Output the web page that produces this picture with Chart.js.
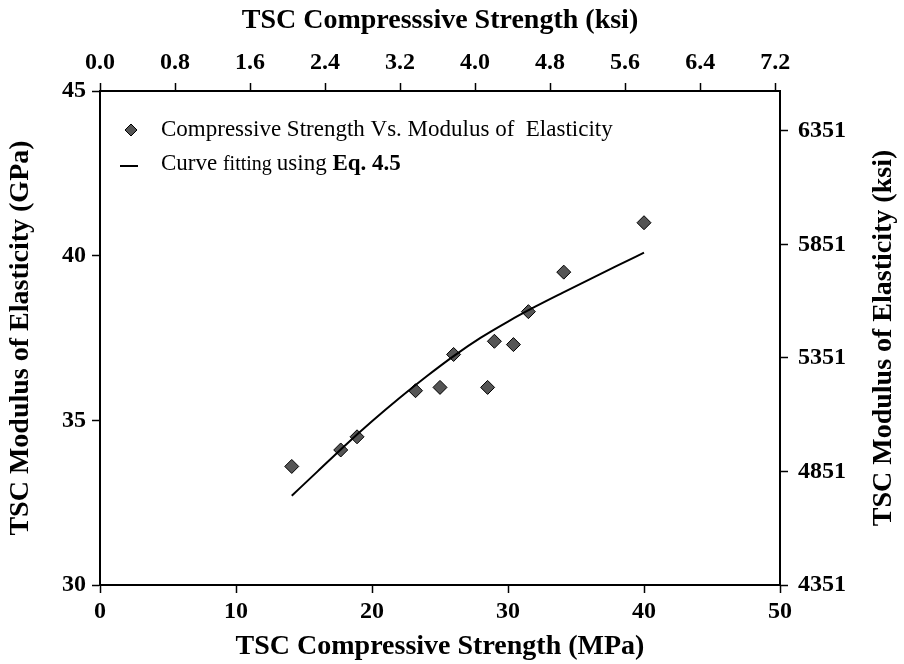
<!DOCTYPE html>
<html>
<head>
<meta charset="utf-8">
<script src="https://cdn.jsdelivr.net/npm/chart.js@4.4.1/dist/chart.umd.min.js"></script>
<style>
    html, body { margin: 0; padding: 0; background: #fff; }
    #wrap { width: 904px; height: 664px; }
</style>
</head>
<body>
<div id="wrap"><canvas id="main-chart" width="904" height="664"></canvas></div>
<script>
// measured specimens: compressive strength (MPa) vs modulus (GPa)
const strength_mpa = [14.1, 17.7, 18.9, 23.2, 25.0, 26.0, 28.5, 29.0, 30.4, 31.5, 34.1, 40.0];
const modulus_gpa = [33.6, 34.1, 34.5, 35.9, 36.0, 37.0, 36.0, 37.4, 37.3, 38.3, 39.5, 41.0];

// fitted curve (Eq. 4.5)
const fit_mpa = [14.1, 16, 18, 20, 22, 24, 26, 28, 30, 32, 34, 36, 38, 40];
const fit_gpa = [32.71, 33.45, 34.23, 34.97, 35.67, 36.33, 36.95, 37.51, 38.0, 38.45, 38.87, 39.28, 39.69, 40.09];

// secondary axes in imperial units
const ksi_ticks_top = [0.0, 0.8, 1.6, 2.4, 3.2, 4.0, 4.8, 5.6, 6.4, 7.2];
const ksi_ticks_right = [4351, 4851, 5351, 5851, 6351];

const MPA_PER_KSI = 6.895;
const KSI_PER_GPA = 145.04;

const serif = "'Liberation Serif', 'Times New Roman', serif";
const tickFont = { family: serif, size: 24, weight: 'bold' };
const titleFont = { family: serif, size: 28, weight: 'bold' };
const rightTitle = 'TSC Modulus of Elasticity (ksi)';

const axisBase = {
    grid: {
        display: true,
        drawOnChartArea: false,
        drawTicks: true,
        tickLength: 8,
        tickColor: '#000',
        tickWidth: 1.5,
    },
    border: { display: true, color: '#000', width: 2 },
};

function fixedBox(size, horizontal) {
    return (scale) => {
        if (horizontal) scale.height = size;
        else scale.width = size;
    };
}

const legendPlugin = {
    id: 'custom_legend',
    afterDraw(chart) {
        const ctx = chart.ctx;
        ctx.save();
        // row 1: diamond marker
        const mx = 131, my1 = 130;
        ctx.beginPath();
        ctx.moveTo(mx, my1 - 6);
        ctx.lineTo(mx + 6, my1);
        ctx.lineTo(mx, my1 + 6);
        ctx.lineTo(mx - 6, my1);
        ctx.closePath();
        ctx.fillStyle = '#555';
        ctx.fill();
        ctx.lineWidth = 1;
        ctx.strokeStyle = '#000';
        ctx.stroke();

        ctx.fillStyle = '#000';
        ctx.textBaseline = 'middle';
        ctx.font = "23px " + serif;
        ctx.fillText('Compressive Strength Vs. Modulus of  Elasticity', 161, my1);

        // row 2: line sample
        const my2 = 164;
        ctx.beginPath();
        ctx.moveTo(120, my2 + 2);
        ctx.lineTo(138, my2 + 2);
        ctx.lineWidth = 2;
        ctx.stroke();

        let x = 161;
        ctx.font = "23px " + serif;
        ctx.fillText('Curve ', x, my2);
        x += ctx.measureText('Curve ').width;
        ctx.font = "20px " + serif;
        ctx.fillText('fitting ', x, my2 + 1);
        x += ctx.measureText('fitting ').width;
        ctx.font = "23px " + serif;
        ctx.fillText('using ', x, my2);
        x += ctx.measureText('using ').width;
        ctx.font = "bold 23px " + serif;
        ctx.fillText('Eq. 4.5', x, my2);

        // right axis title, reading bottom to top
        const area = chart.chartArea;
        ctx.translate(884, (area.top + area.bottom) / 2);
        ctx.rotate(-Math.PI / 2);
        ctx.textAlign = 'center';
        ctx.font = "bold 28px " + serif;
        ctx.fillText(rightTitle, 0, 0);
        ctx.restore();
    }
};

const data = {
    datasets: [{
        label: 'Compressive Strength Vs. Modulus of  Elasticity',
        type: 'scatter',
        data: strength_mpa.map((v, i) => ({ x: v, y: modulus_gpa[i] })),
        pointStyle: 'rectRot',
        pointRadius: 7,
        backgroundColor: '#555',
        borderColor: '#000',
        borderWidth: 1,
        order: 1,
    }, {
        label: 'Curve fitting using Eq. 4.5',
        type: 'line',
        data: fit_mpa.map((v, i) => ({ x: v, y: fit_gpa[i] })),
        borderColor: '#000',
        borderWidth: 2,
        pointRadius: 0,
        cubicInterpolationMode: 'monotone',
        fill: false,
        order: 0,
    }]
};

const config = {
    type: 'scatter',
    data: data,
    options: {
        responsive: false,
        animation: false,
        devicePixelRatio: 1,
        layout: { padding: 0 },
        plugins: {
            legend: { display: false },
            tooltip: { enabled: false },
        },
        scales: {
            x: {
                ...axisBase,
                type: 'linear',
                position: 'bottom',
                min: 0,
                max: 50,
                ticks: { stepSize: 10, color: '#000', font: tickFont, padding: 4 },
                title: { display: true, text: 'TSC Compressive Strength (MPa)', color: '#000', font: titleFont, padding: { top: 0, bottom: 0 } },
                afterFit: fixedBox(79, true),
            },
            x2: {
                ...axisBase,
                type: 'linear',
                position: 'top',
                min: 0,
                max: 50 / MPA_PER_KSI,
                afterBuildTicks: (scale) => { scale.ticks = ksi_ticks_top.map(v => ({ value: v })); },
                ticks: { color: '#000', font: tickFont, padding: 6, callback: (v) => Number(v).toFixed(1) },
                title: { display: true, text: 'TSC Compresssive Strength (ksi)', color: '#000', font: titleFont, padding: { top: 4, bottom: 6 } },
                afterFit: fixedBox(91, true),
            },
            y: {
                ...axisBase,
                type: 'linear',
                position: 'left',
                min: 30,
                max: 45,
                ticks: { stepSize: 5, color: '#000', font: tickFont, padding: 6 },
                title: { display: true, text: 'TSC Modulus of Elasticity (GPa)', color: '#000', font: titleFont, padding: { top: 4, bottom: 4 } },
                afterFit: fixedBox(100, false),
            },
            y2: {
                ...axisBase,
                type: 'linear',
                position: 'right',
                min: 30 * KSI_PER_GPA,
                max: 45 * KSI_PER_GPA,
                afterBuildTicks: (scale) => { scale.ticks = ksi_ticks_right.map(v => ({ value: v })); },
                ticks: { color: '#000', font: tickFont, padding: 10, callback: (v) => String(v) },
                title: { display: false },
                afterFit: fixedBox(124, false),
            },
        }
    },
    plugins: [legendPlugin],
};

const myChart = new Chart(document.getElementById('main-chart'), config);
</script>
</body>
</html>
